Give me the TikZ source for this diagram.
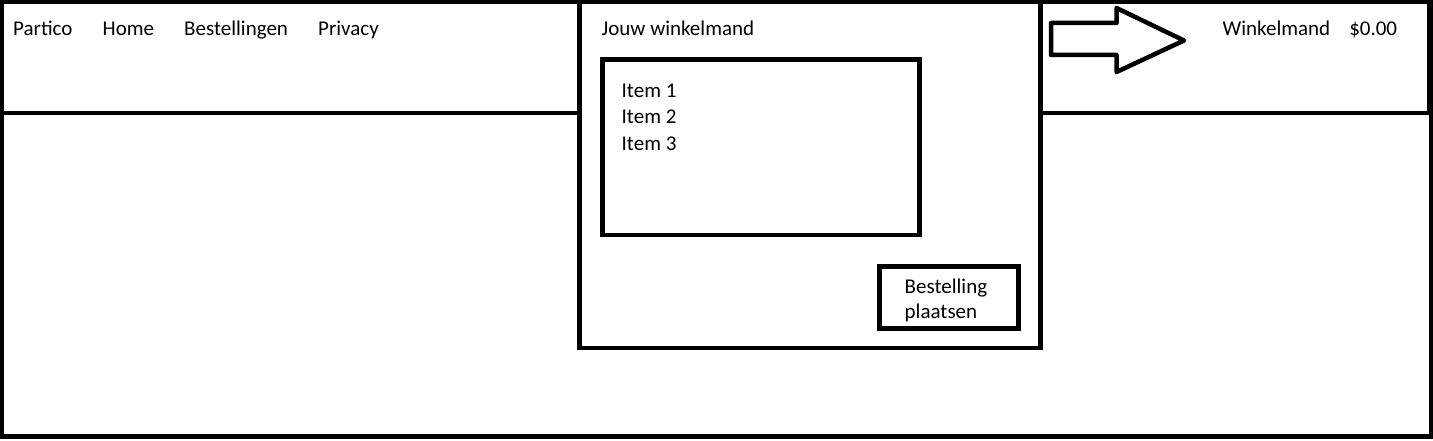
\documentclass[tikz,border=0pt]{standalone}
\usepackage{fontspec}
\setmainfont{Carlito}
\begin{document}
\begin{tikzpicture}[x=1pt,y=-1pt,
  frame/.style={draw=black,line width=4.5pt},
  box/.style={draw=black,line width=4.5pt,fill=white,inner sep=0pt,outer sep=0pt},
  lbl/.style={font=\fontsize{21}{25}\selectfont,inner sep=0pt,anchor=base west},
]
\useasboundingbox[fill=white] (0,0) rectangle (1433,441);
% outer frame
\draw[frame] (2,2) rectangle (1431,436.5);
% panel
\node[box,minimum width=461pt,minimum height=346pt,anchor=north west] (panel) at (579.5,2) {};
% header line
\coordinate (hl) at (0,113);
\coordinate (hr) at (1431,113);
\draw[frame] (hl) -- (hl -| panel.west);
\draw[frame] (hr -| panel.east) -- (hr);
% right header box side
\draw[frame] (1429,2) -- (1429,113);
% nav texts
\node[lbl] (partico) at (13,36) {Partico};
\node[lbl] (home) at (102.5,36) {Home};
\node[lbl] (best) at (184,36) {Bestellingen};
\node[lbl] (priv) at (318,36) {Privacy};
% panel title
\node[lbl] (title) at (601.5,36) {Jouw winkelmand};
% item list box
\node[box,minimum width=317pt,minimum height=175.5pt,anchor=north west] (list) at (602.5,59.5) {};
\node[lbl] (i1) at (621.5,98) {Item 1};
\node[lbl] (i2) at (621.5,124) {Item 2};
\node[lbl] (i3) at (621.5,150) {Item 3};
% button
\node[box,minimum width=139pt,minimum height=62pt,anchor=north west] (btn) at (879.5,266.5) {};
\node[lbl,align=left,anchor=north west] (btntxt) at (904.5,279) {Bestelling\\plaatsen};
% arrow
\draw[line width=4.5pt,line join=round] (1051,23) -- (1116.5,23) -- (1116.5,8) -- (1184,40.5) -- (1116.5,72) -- (1116.5,55) -- (1051,55) -- cycle;
% cart label
\node[lbl] (cart) at (1222.5,36) {Winkelmand\hspace{19pt}\$0.00};
\end{tikzpicture}
\end{document}
